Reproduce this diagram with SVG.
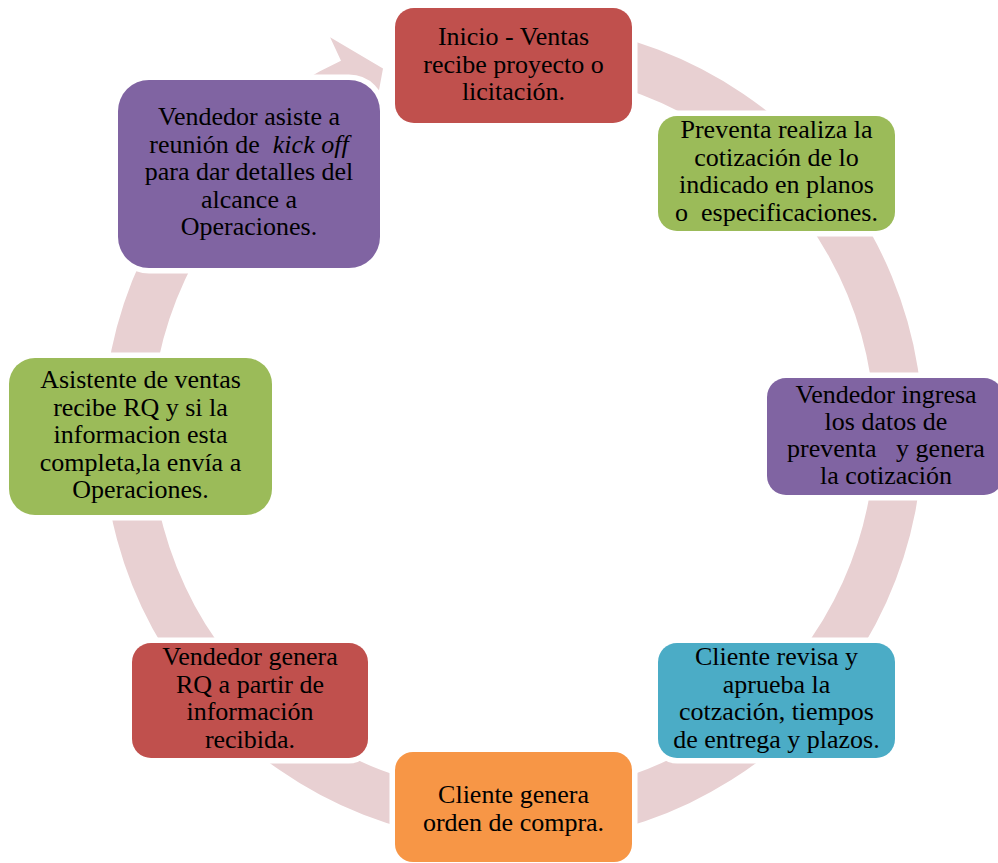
<svg xmlns="http://www.w3.org/2000/svg" width="998" height="863" viewBox="0 0 998 863">
  <style>
    .node { stroke: #FFFFFF; stroke-width: 11; paint-order: stroke; }
    .red { fill: #C0504D; }
    .green { fill: #9BBB59; }
    .purple { fill: #8064A2; }
    .teal { fill: #4BACC6; }
    .orange { fill: #F79646; }
    text { font-family: 'Liberation Serif', 'DejaVu Serif', serif; font-size: 26px; fill: #000000; text-anchor: middle; }
    .ring { fill: #E8D0D2; }
  </style>

  <!-- circular arrow running clockwise behind the steps -->
  <g id="connectors">
    <path class="ring" d="M 612.2 35.2 A 410 410 0 1 1 341.0 60.8 L 330.1 37.2 L 383 68.5 L 372 128 L 361.1 104.4 A 362 362 0 1 0 600.6 81.8 Z"/>
  </g>

  <g id="step1" font-family="Liberation Serif, serif">
    <rect class="node red" x="395" y="8" width="237" height="115" rx="19"/>
    <text x="513.5" y="45">Inicio - Ventas</text>
    <text x="513.5" y="72.5">recibe proyecto o</text>
    <text x="513.5" y="100">licitación.</text>
  </g>

  <g id="step2">
    <rect class="node green" x="658" y="116" width="237" height="115" rx="19"/>
    <text x="776.5" y="138">Preventa realiza la</text>
    <text x="776.5" y="165.5">cotización de lo</text>
    <text x="776.5" y="193">indicado en planos</text>
    <text x="776.5" y="220.5" xml:space="preserve">o  especificaciones.</text>
  </g>

  <g id="step3">
    <rect class="node purple" x="767" y="378" width="236" height="117" rx="19"/>
    <text x="886" y="403">Vendedor ingresa</text>
    <text x="886" y="430">los datos de</text>
    <text x="886" y="457" xml:space="preserve">preventa   y genera</text>
    <text x="886" y="484">la cotización</text>
  </g>

  <g id="step4">
    <rect class="node teal" x="658" y="643" width="237" height="115" rx="19"/>
    <text x="776.5" y="665">Cliente revisa y</text>
    <text x="776.5" y="692.5">aprueba la</text>
    <text x="776.5" y="720">cotzación, tiempos</text>
    <text x="776.5" y="747.5">de entrega y plazos.</text>
  </g>

  <g id="step5">
    <rect class="node orange" x="395" y="752" width="237" height="110" rx="18"/>
    <text x="513.5" y="803">Cliente genera</text>
    <text x="513.5" y="830.5">orden de compra.</text>
  </g>

  <g id="step6">
    <rect class="node red" x="132" y="643" width="236" height="115" rx="19"/>
    <text x="250" y="665">Vendedor genera</text>
    <text x="250" y="692.5">RQ a partir de</text>
    <text x="250" y="720">información</text>
    <text x="250" y="747.5">recibida.</text>
  </g>

  <g id="step7">
    <rect class="node green" x="9" y="358" width="263" height="157" rx="26"/>
    <text x="140.5" y="388">Asistente de ventas</text>
    <text x="140.5" y="415.5">recibe RQ y si la</text>
    <text x="140.5" y="443">informacion esta</text>
    <text x="140.5" y="470.5">completa,la envía a</text>
    <text x="140.5" y="498">Operaciones.</text>
  </g>

  <g id="step8">
    <rect class="node purple" x="118" y="80" width="262" height="188" rx="31"/>
    <text x="249" y="125">Vendedor asiste a</text>
    <text x="249" y="152.5" xml:space="preserve">reunión de  <tspan font-style="italic">kick off</tspan></text>
    <text x="249" y="180">para dar detalles del</text>
    <text x="249" y="207.5">alcance a</text>
    <text x="249" y="235">Operaciones.</text>
  </g>
</svg>
